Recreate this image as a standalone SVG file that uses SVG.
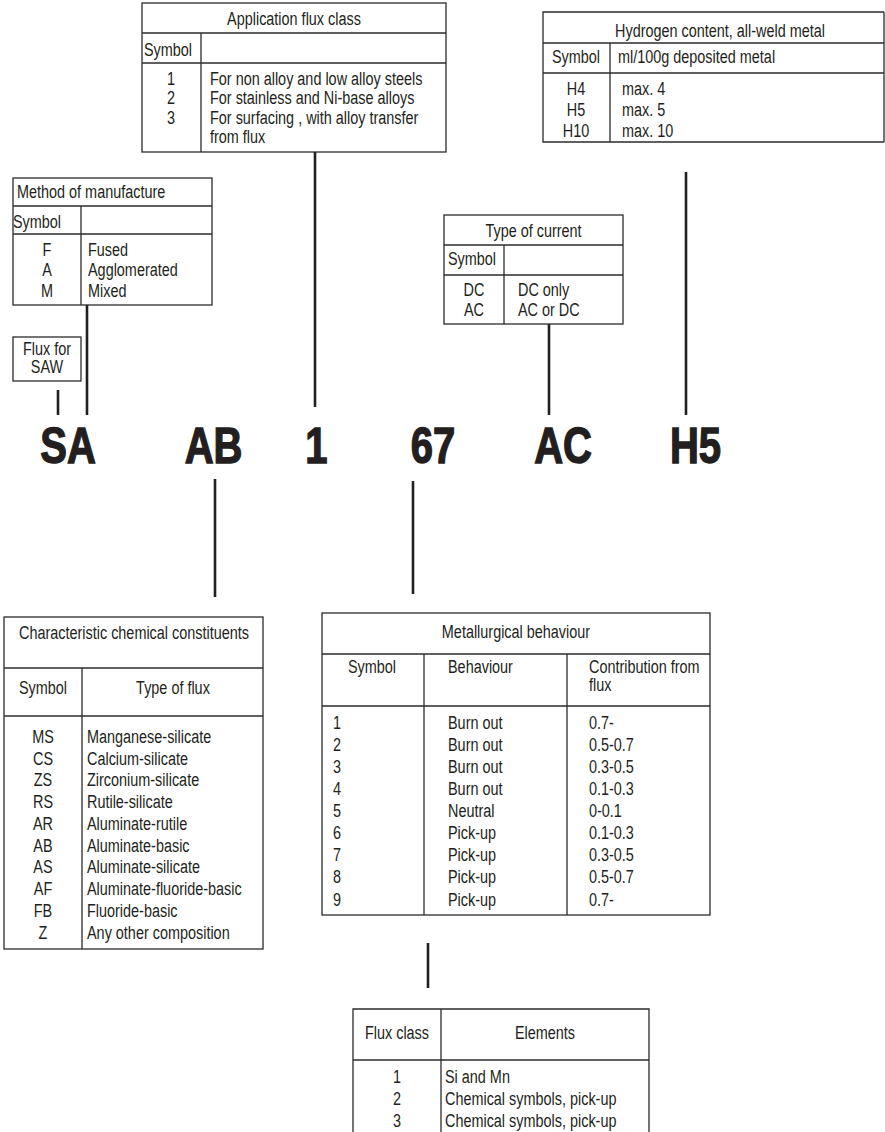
<svg xmlns="http://www.w3.org/2000/svg" width="885" height="1132" viewBox="0 0 885 1132">
<style>
.t{font-family:"Liberation Sans",Arial,sans-serif;font-size:17.6px;fill:#231f20}
.c{text-anchor:middle}
.b{fill:none;stroke:#2b2b2b;stroke-width:1.3}
.big{font-family:"Liberation Sans",Arial,sans-serif;font-weight:bold;font-size:50px;fill:#231f20;stroke:#231f20;stroke-width:1.4;text-anchor:middle}
.k{stroke:#231f20;stroke-width:2.6;fill:none}
</style>
<rect width="885" height="1132" fill="#fff"/>

<g id="app-flux-class">
<rect class="b" x="142" y="3" width="304" height="149"/>
<line class="b" x1="142" y1="33" x2="446" y2="33"/>
<line class="b" x1="142" y1="63" x2="446" y2="63"/>
<line class="b" x1="201" y1="33" x2="201" y2="152"/>
<g transform="scale(0.82,1)">
<text class="t c" x="358.54" y="25">Application flux class</text>
<text class="t" x="175.61" y="56">Symbol</text>
<text class="t c" x="208.54" y="85">1</text>
<text class="t c" x="208.54" y="104.5">2</text>
<text class="t c" x="208.54" y="124">3</text>
<text class="t" x="256.1" y="85">For non alloy and low alloy steels</text>
<text class="t" x="256.1" y="104.5">For stainless and Ni-base alloys</text>
<text class="t" x="256.1" y="124">For surfacing , with alloy transfer</text>
<text class="t" x="256.1" y="143.5">from flux</text>
</g>
</g>

<g id="hydrogen">
<path class="b" d="M884,12 H543 V142 H884 M884,12 V142"/>
<line class="b" x1="543" y1="43" x2="884" y2="43"/>
<line class="b" x1="543" y1="73" x2="884" y2="73"/>
<line class="b" x1="610" y1="43" x2="610" y2="142"/>
<g transform="scale(0.82,1)">
<text class="t c" x="878.05" y="37">Hydrogen content, all-weld metal</text>
<text class="t" x="673.17" y="63">Symbol</text>
<text class="t" x="753.66" y="63">ml/100g deposited metal</text>
<text class="t c" x="702.44" y="95">H4</text>
<text class="t c" x="702.44" y="116">H5</text>
<text class="t c" x="702.44" y="137">H10</text>
<text class="t" x="758.54" y="95">max. 4</text>
<text class="t" x="758.54" y="116">max. 5</text>
<text class="t" x="758.54" y="137">max. 10</text>
</g>
</g>

<g id="method">
<rect class="b" x="13" y="178" width="199" height="127"/>
<line class="b" x1="13" y1="206" x2="212" y2="206"/>
<line class="b" x1="13" y1="234" x2="212" y2="234"/>
<line class="b" x1="81" y1="206" x2="81" y2="305"/>
<g transform="scale(0.82,1)">
<text class="t" x="20.73" y="198">Method of manufacture</text>
<text class="t" x="15.85" y="228">Symbol</text>
<text class="t c" x="57.32" y="256">F</text>
<text class="t c" x="57.32" y="276.5">A</text>
<text class="t c" x="57.32" y="297">M</text>
<text class="t" x="107.32" y="256">Fused</text>
<text class="t" x="107.32" y="276.5">Agglomerated</text>
<text class="t" x="107.32" y="297">Mixed</text>
</g>
</g>

<g id="flux-for-saw">
<rect class="b" x="13" y="337" width="68" height="44"/>
<g transform="scale(0.82,1)">
<text class="t c" x="57.32" y="355">Flux for</text>
<text class="t c" x="57.32" y="373">SAW</text>
</g>
</g>

<g id="type-of-current">
<rect class="b" x="444" y="215" width="179" height="109"/>
<line class="b" x1="444" y1="245" x2="623" y2="245"/>
<line class="b" x1="444" y1="275" x2="623" y2="275"/>
<line class="b" x1="504" y1="245" x2="504" y2="324"/>
<g transform="scale(0.82,1)">
<text class="t c" x="650.61" y="237">Type of current</text>
<text class="t" x="546.34" y="265">Symbol</text>
<text class="t c" x="578.05" y="296">DC</text>
<text class="t c" x="578.05" y="316">AC</text>
<text class="t" x="631.71" y="296">DC only</text>
<text class="t" x="631.71" y="316">AC or DC</text>
</g>
</g>

<g id="designation" transform="scale(0.8,1)">
<text class="big" x="85" y="463">SA</text>
<text class="big" x="266.9" y="463">AB</text>
<text class="big" x="395.6" y="463">1</text>
<text class="big" x="541.3" y="463">67</text>
<text class="big" x="703.8" y="463">AC</text>
<text class="big" x="869.4" y="463">H5</text>
</g>

<g id="chemical">
<rect class="b" x="4" y="617" width="259" height="332"/>
<line class="b" x1="4" y1="668" x2="263" y2="668"/>
<line class="b" x1="4" y1="716" x2="263" y2="716"/>
<line class="b" x1="82" y1="668" x2="82" y2="949"/>
<g transform="scale(0.82,1)">
<text class="t c" x="163.41" y="639">Characteristic chemical constituents</text>
<text class="t c" x="52.44" y="694">Symbol</text>
<text class="t c" x="210.98" y="694">Type of flux</text>
<text class="t c" x="52.44" y="743">MS</text>
<text class="t c" x="52.44" y="765">CS</text>
<text class="t c" x="52.44" y="786.5">ZS</text>
<text class="t c" x="52.44" y="808">RS</text>
<text class="t c" x="52.44" y="830">AR</text>
<text class="t c" x="52.44" y="852">AB</text>
<text class="t c" x="52.44" y="873.5">AS</text>
<text class="t c" x="52.44" y="895.5">AF</text>
<text class="t c" x="52.44" y="917">FB</text>
<text class="t c" x="52.44" y="939">Z</text>
<text class="t" x="106.1" y="743">Manganese-silicate</text>
<text class="t" x="106.1" y="765">Calcium-silicate</text>
<text class="t" x="106.1" y="786.5">Zirconium-silicate</text>
<text class="t" x="106.1" y="808">Rutile-silicate</text>
<text class="t" x="106.1" y="830">Aluminate-rutile</text>
<text class="t" x="106.1" y="852">Aluminate-basic</text>
<text class="t" x="106.1" y="873.5">Aluminate-silicate</text>
<text class="t" x="106.1" y="895.5">Aluminate-fluoride-basic</text>
<text class="t" x="106.1" y="917">Fluoride-basic</text>
<text class="t" x="106.1" y="939">Any other composition</text>
</g>
</g>

<g id="metallurgical">
<rect class="b" x="322" y="613" width="388" height="302"/>
<line class="b" x1="322" y1="654" x2="710" y2="654"/>
<line class="b" x1="322" y1="706" x2="710" y2="706"/>
<line class="b" x1="424" y1="654" x2="424" y2="915"/>
<line class="b" x1="567" y1="654" x2="567" y2="915"/>
<g transform="scale(0.82,1)">
<text class="t c" x="629.27" y="638">Metallurgical behaviour</text>
<text class="t" x="424.39" y="673">Symbol</text>
<text class="t" x="546.34" y="673">Behaviour</text>
<text class="t" x="718.29" y="673">Contribution from</text>
<text class="t" x="718.29" y="691">flux</text>
<text class="t" x="406.1" y="729">1</text>
<text class="t" x="406.1" y="751">2</text>
<text class="t" x="406.1" y="773">3</text>
<text class="t" x="406.1" y="795">4</text>
<text class="t" x="406.1" y="817">5</text>
<text class="t" x="406.1" y="839">6</text>
<text class="t" x="406.1" y="861">7</text>
<text class="t" x="406.1" y="883.5">8</text>
<text class="t" x="406.1" y="906">9</text>
<text class="t" x="546.34" y="729">Burn out</text>
<text class="t" x="546.34" y="751">Burn out</text>
<text class="t" x="546.34" y="773">Burn out</text>
<text class="t" x="546.34" y="795">Burn out</text>
<text class="t" x="546.34" y="817">Neutral</text>
<text class="t" x="546.34" y="839">Pick-up</text>
<text class="t" x="546.34" y="861">Pick-up</text>
<text class="t" x="546.34" y="883.5">Pick-up</text>
<text class="t" x="546.34" y="906">Pick-up</text>
<text class="t" x="718.29" y="729">0.7-</text>
<text class="t" x="718.29" y="751">0.5-0.7</text>
<text class="t" x="718.29" y="773">0.3-0.5</text>
<text class="t" x="718.29" y="795">0.1-0.3</text>
<text class="t" x="718.29" y="817">0-0.1</text>
<text class="t" x="718.29" y="839">0.1-0.3</text>
<text class="t" x="718.29" y="861">0.3-0.5</text>
<text class="t" x="718.29" y="883.5">0.5-0.7</text>
<text class="t" x="718.29" y="906">0.7-</text>
</g>
</g>

<g id="flux-class">
<path class="b" d="M353,1133 V1009 H649 V1133"/>
<line class="b" x1="353" y1="1060" x2="649" y2="1060"/>
<line class="b" x1="441" y1="1009" x2="441" y2="1133"/>
<g transform="scale(0.82,1)">
<text class="t c" x="484.15" y="1039">Flux class</text>
<text class="t c" x="664.63" y="1039">Elements</text>
<text class="t c" x="484.15" y="1083">1</text>
<text class="t c" x="484.15" y="1105">2</text>
<text class="t c" x="484.15" y="1127">3</text>
<text class="t" x="542.68" y="1083">Si and Mn</text>
<text class="t" x="542.68" y="1105">Chemical symbols, pick-up</text>
<text class="t" x="542.68" y="1127">Chemical symbols, pick-up</text>
</g>
</g>

<g id="connectors">
<line class="k" x1="58" y1="390" x2="58" y2="415"/>
<line class="k" x1="87" y1="305" x2="87" y2="415"/>
<line class="k" x1="315" y1="152" x2="315" y2="407"/>
<line class="k" x1="549" y1="324" x2="549" y2="415"/>
<line class="k" x1="686" y1="172" x2="686" y2="415"/>
<line class="k" x1="215" y1="479" x2="215" y2="597" stroke-width="2"/>
<line class="k" x1="413" y1="481" x2="413" y2="594" stroke-width="2"/>
<line class="k" x1="428" y1="943" x2="428" y2="988" stroke-width="3"/>
</g>
</svg>
